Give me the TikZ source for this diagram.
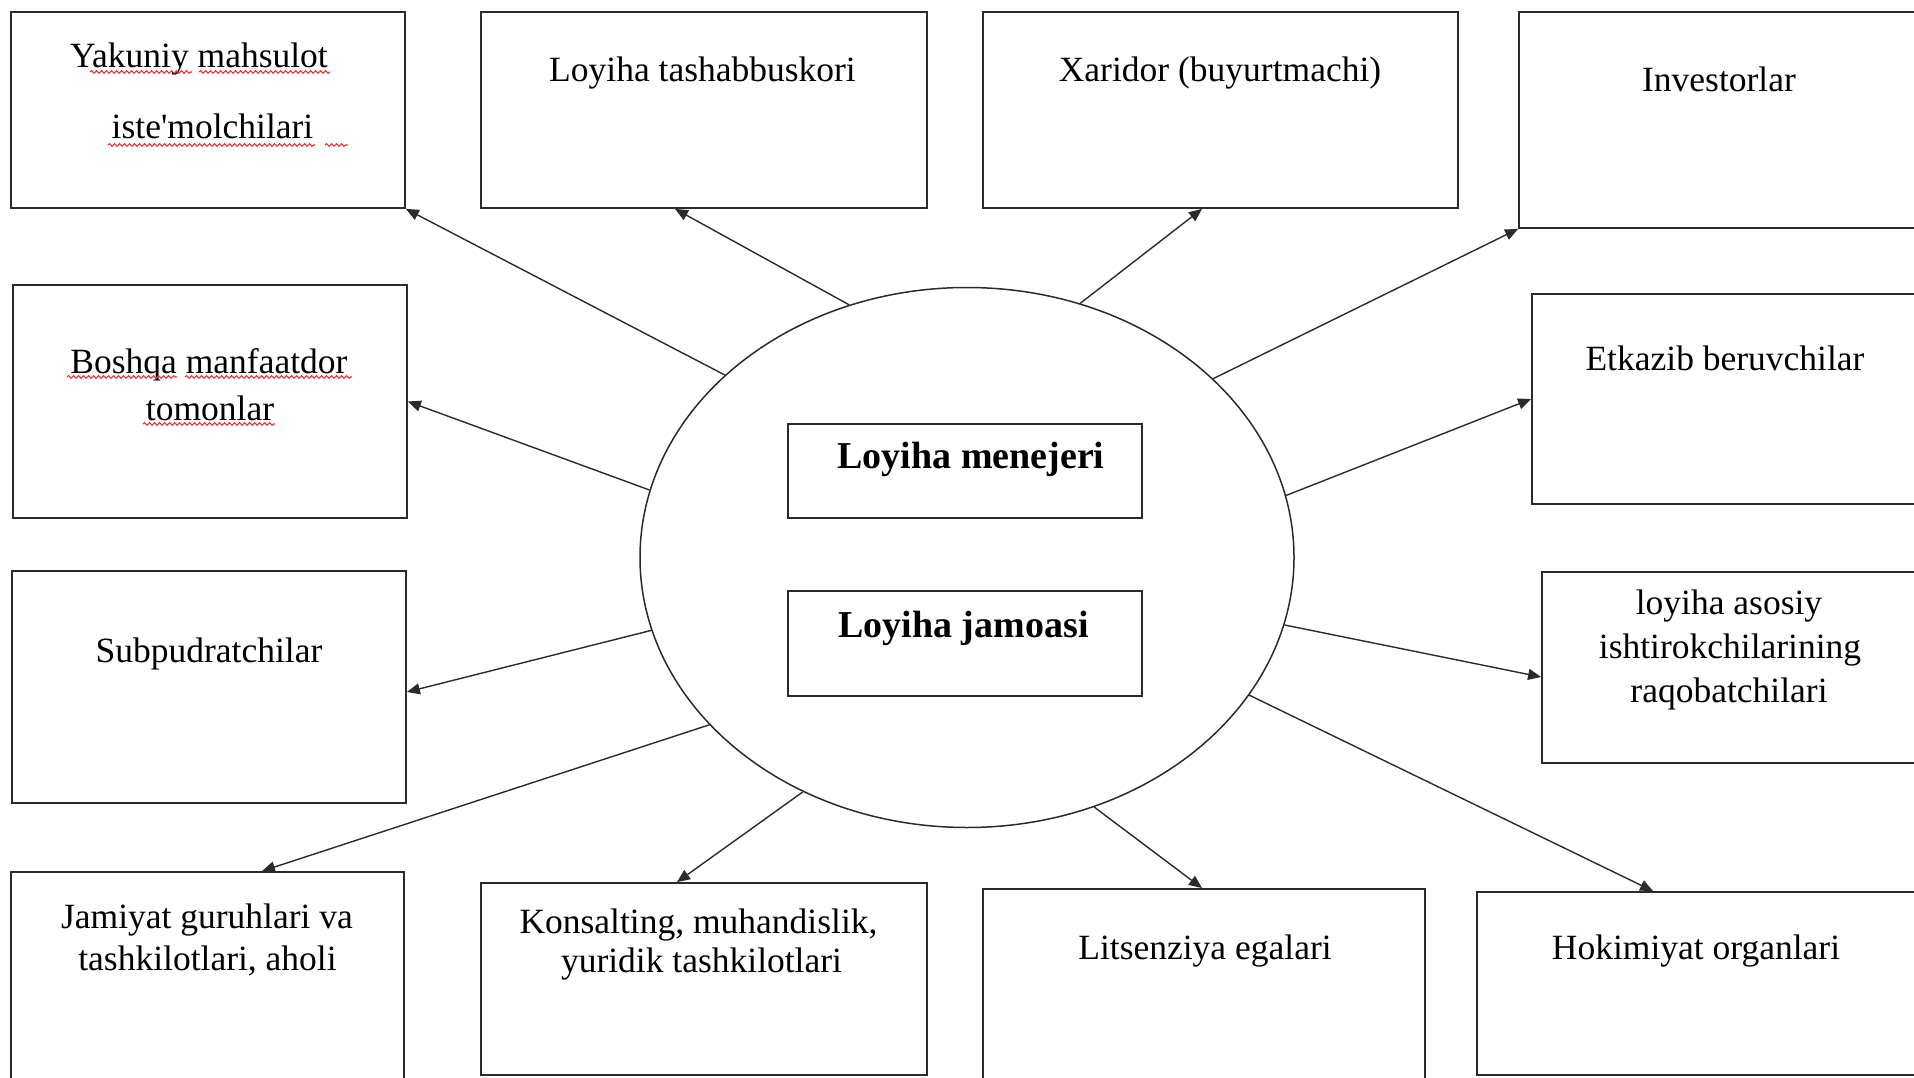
\documentclass[tikz,border=0pt]{standalone}
\usepackage{fontspec}
\setmainfont{Liberation Serif}[Ligatures=TeXOff]
\usetikzlibrary{arrows.meta,shapes.geometric,decorations.pathmorphing}
\definecolor{ink}{HTML}{2B2B2B}
\definecolor{squigred}{HTML}{F03030}
\begin{document}
\begin{tikzpicture}[x=1pt,y=-1pt,
  box/.style={draw=ink, line width=1.8pt, rectangle, inner sep=0pt},
  innerbox/.style={draw=ink, line width=1.5pt, rectangle, inner sep=0pt},
  ell/.style={draw=ink, line width=1.5pt, ellipse, inner sep=0pt},
  txt/.style={font=\fontsize{35.5}{40}\selectfont, text=black, inner sep=0pt, anchor=base},
  btxt/.style={font=\fontsize{38}{42}\selectfont\bfseries, text=black, inner sep=0pt, anchor=base},
  arr/.style={draw=ink, line width=1.4pt, -{Triangle[length=13pt,width=11pt]}},
  squig/.style={draw=squigred, line width=1.1pt, decorate, decoration={snake, segment length=5pt, amplitude=1.3pt}}
]
\useasboundingbox (0,0) rectangle (1914,1078);
\fill[white] (0,0) rectangle (1914,1078);
\clip (0,0) rectangle (1914,1078);

% outer boxes
\node[box, minimum width=394pt, minimum height=196pt] (b1) at (208,110) {};
\node[box, minimum width=446pt, minimum height=196pt] (b2) at (704,110) {};
\node[box, minimum width=475pt, minimum height=196pt] (b3) at (1220.5,110) {};
\node[box, minimum width=415pt, minimum height=216pt] (b4) at (1726.5,120) {};
\node[box, minimum width=394pt, minimum height=233pt] (b5) at (210,401.5) {};
\node[box, minimum width=402pt, minimum height=210pt] (b6) at (1733,399) {};
\node[box, minimum width=394pt, minimum height=232pt] (b7) at (209,687) {};
\node[box, minimum width=392pt, minimum height=191pt] (b8) at (1738,667.5) {};
\node[box, minimum width=393pt, minimum height=228pt] (b9) at (207.5,986) {};
\node[box, minimum width=446pt, minimum height=192pt] (b10) at (704,979) {};
\node[box, minimum width=442pt, minimum height=211pt] (b11) at (1204,994.5) {};
\node[box, minimum width=457pt, minimum height=183pt] (b12) at (1705.5,983.5) {};

% centre
\node[ell, minimum width=654pt, minimum height=540pt] (c) at (967,557.5) {};
\node[innerbox, minimum width=354pt, minimum height=94pt] (m) at (965,471) {};
\node[innerbox, minimum width=354pt, minimum height=105pt] (j) at (965,643.5) {};

% texts
\node[txt] (t1a) at (199,68) {Yakuniy mahsulot};
\node[txt] (t1b) at (212.5,139) {iste'molchilari};
\node[txt] (t2) at (702.5,82) {Loyiha tashabbuskori};
\node[txt] (t3) at (1220,82) {Xaridor (buyurtmachi)};
\node[txt] (t4) at (1719,92) {Investorlar};
\node[txt] (t5a) at (209,373) {Boshqa manfaatdor};
\node[txt] (t5b) at (210,420) {tomonlar};
\node[txt] (t6) at (1725,370) {Etkazib beruvchilar};
\node[txt] (t7) at (209,662) {Subpudratchilar};
\node[txt] (t8a) at (1729,614) {loyiha asosiy};
\node[txt] (t8b) at (1730,658) {ishtirokchilarining};
\node[txt] (t8c) at (1729,702) {raqobatchilari};
\node[txt] (t9a) at (207,928) {Jamiyat guruhlari va};
\node[txt] (t9b) at (207.5,970) {tashkilotlari, aholi};
\node[txt] (t10a) at (698.5,933) {Konsalting, muhandislik,};
\node[txt] (t10b) at (701.5,972) {yuridik tashkilotlari};
\node[txt] (t11) at (1205,959) {Litsenziya egalari};
\node[txt] (t12) at (1696,959) {Hokimiyat organlari};
\node[btxt] (tm) at (971,468) {Loyiha menejeri};
\node[btxt] (tj) at (963.5,637) {Loyiha jamoasi};

% spell-check squiggles
\draw[squig] (90,72) -- (192,72);
\draw[squig] (199,72) -- (330,72);
\draw[squig] (108,145) -- (315,145);
\draw[squig] (325,145) -- (348,145);
\draw[squig] (67,377) -- (177,377);
\draw[squig] (185,377) -- (352,377);
\draw[squig] (143,424) -- (275,424);

% connectors
\draw[arr] (c.143.0) -- (b1.south east);
\draw[arr] (c.115.4) -- ([xshift=-29pt]b2.south);
\draw[arr] (c.66.8) -- ([xshift=-18.5pt]b3.south);
\draw[arr] (c.36.6) -- (b4.south west);
\draw[arr] (c.168.0) -- (b5.east);
\draw[arr] (c.11.85) -- (b6.west);
\draw[arr] (c.193.9) -- ([yshift=-5pt]b7.east);
\draw[arr] (c.348.7) -- ([yshift=-9.5pt]b8.west);
\draw[arr] (c.213.3) -- ([xshift=54.5pt]b9.north);
\draw[arr] (c.235.5) -- ([xshift=-27pt]b10.north);
\draw[arr] (c.297.9) -- ([xshift=-2pt]b11.north);
\draw[arr] (c.334.0) -- ([xshift=177pt]b12.north west);
\end{tikzpicture}
\end{document}
